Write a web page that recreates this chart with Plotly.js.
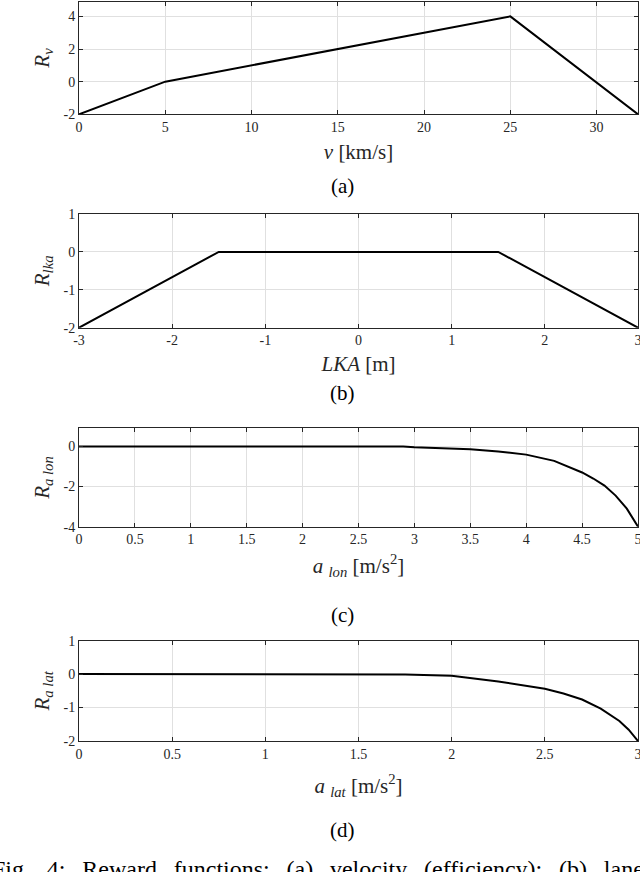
<!DOCTYPE html>
<html>
<head>
<meta charset="utf-8">
<script src="https://cdn.plot.ly/plotly-3.0.1.min.js"></script>
<style>
  body { margin: 0; background: #fff; }
  #chart { width: 640px; height: 872px; }
</style>
</head>
<body>
<div id="chart"></div>
<script>
// (a) velocity reward
const velX = [0, 5, 25, 32.4];
const velY = [-2, 0, 4, -2];
const velXTicks = [0, 5, 10, 15, 20, 25, 30];
const velYTicks = [-2, 0, 2, 4];

// (b) lane keeping reward
const lkaX = [-3, -1.5, 1.5, 3];
const lkaY = [-2, 0, 0, -2];
const lkaXTicks = [-3, -2, -1, 0, 1, 2, 3];
const lkaYTicks = [-2, -1, 0, 1];

// (c) longitudinal acceleration reward
const lonX = [0, 0.5, 1, 1.5, 2, 2.5, 2.9, 3, 3.25, 3.5, 3.75, 4, 4.25, 4.5, 4.6, 4.7, 4.8, 4.9, 5];
const lonY = [0, 0, 0, 0, 0, 0, 0, -0.04, -0.08, -0.14, -0.25, -0.41, -0.72, -1.3, -1.6, -1.95, -2.45, -3.1, -4];
const lonXTicks = [0, 0.5, 1, 1.5, 2, 2.5, 3, 3.5, 4, 4.5, 5];
const lonYTicks = [-4, -2, 0];

// (d) lateral acceleration reward
const latX = [0, 0.5, 1, 1.5, 1.75, 2, 2.25, 2.5, 2.6, 2.7, 2.8, 2.9, 2.95, 3];
const latY = [0, 0, 0, 0, -0.01, -0.05, -0.22, -0.44, -0.58, -0.76, -1.03, -1.4, -1.66, -2];
const latXTicks = [0, 0.5, 1, 1.5, 2, 2.5, 3];
const latYTicks = [-2, -1, 0, 1];

// caption words (the page is justified, so words are spread out)
const captionWords = ['Fig.', '4:', 'Reward', 'functions:', '(a)', 'velocity', '(efficiency);', '(b)', 'lane'];

const serif = "'Liberation Serif', 'Times New Roman', serif";
const ink = '#262626';

function axisStyle(range, ticks, title, standoff) {
    return {
        range: range,
        tickmode: 'array',
        tickvals: ticks,
        ticktext: ticks.map(String),
        ticks: 'inside',
        ticklen: 4,
        tickcolor: ink,
        showline: true,
        linecolor: ink,
        linewidth: 1,
        mirror: 'ticks',
        showgrid: true,
        gridcolor: '#e0e0e0',
        zeroline: false,
        ticklabeloverflow: 'allow',
        tickfont: { family: serif, size: 14, color: ink },
        title: { text: title, font: { family: serif, size: 21, color: ink }, standoff: standoff },
        fixedrange: true
    };
}

function line(x, y, xa, ya) {
    return { x: x, y: y, xaxis: xa, yaxis: ya, mode: 'lines', type: 'scatter',
             line: { color: '#000', width: 2 }, hoverinfo: 'skip' };
}

const traces = [
    line(velX, velY, 'x', 'y'),
    line(lkaX, lkaY, 'x2', 'y2'),
    line(lonX, lonY, 'x3', 'y3'),
    line(latX, latY, 'x4', 'y4')
];

function label(text, y) {
    return { text: text, xref: 'paper', yref: 'paper', x: 0.472, y: y,
             xanchor: 'center', yanchor: 'middle', showarrow: false,
             font: { family: serif, size: 21, color: '#000' } };
}

const caption = {
    text: captionWords.join('\u2002\u2009'),
    xref: 'paper', yref: 'paper', x: -0.159, y: 0.004,
    xanchor: 'left', yanchor: 'middle', showarrow: false,
    font: { family: serif, size: 24, color: '#000' }
};

const layout = {
    width: 640,
    height: 872,
    margin: { l: 79, r: 2, t: 0, b: 0 },
    paper_bgcolor: '#fff',
    plot_bgcolor: '#fff',
    showlegend: false,
    xaxis: Object.assign(axisStyle([0, 32.4], velXTicks, '<i>v</i> [km/s]', 10), { anchor: 'y', domain: [0, 1] }),
    yaxis: Object.assign(axisStyle([-2, 4.9], velYTicks, '<i>R</i><sub><i>v</i></sub>', 8), { anchor: 'x', domain: [0.8689, 0.9981] }),
    xaxis2: Object.assign(axisStyle([-3, 3], lkaXTicks, '<i>LKA</i> [m]', 8), { anchor: 'y2', domain: [0, 1] }),
    yaxis2: Object.assign(axisStyle([-2, 1], lkaYTicks, '<i>R</i><sub><i>lka</i></sub>', 8), { anchor: 'x2', domain: [0.6242, 0.7546] }),
    xaxis3: Object.assign(axisStyle([0, 5], lonXTicks, '<i>a</i> <sub><i>lon</i></sub> [m/s<sup>2</sup>]', 11), { anchor: 'y3', domain: [0, 1] }),
    yaxis3: Object.assign(axisStyle([-4, 0.9], lonYTicks, '<i>R</i><sub><i>a lon</i></sub>', 8), { anchor: 'x3', domain: [0.3960, 0.5088] }),
    xaxis4: Object.assign(axisStyle([0, 3], latXTicks, '<i>a</i> <sub><i>lat</i></sub> [m/s<sup>2</sup>]', 17), { anchor: 'y4', domain: [0, 1] }),
    yaxis4: Object.assign(axisStyle([-2, 1], latYTicks, '<i>R</i><sub><i>a lat</i></sub>', 8), { anchor: 'x4', domain: [0.1502, 0.2653] }),
    annotations: [
        label('(a)', 0.7867),
        label('(b)', 0.5493),
        label('(c)', 0.2947),
        label('(d)', 0.0482),
        caption
    ]
};

Plotly.newPlot('chart', traces, layout, { displayModeBar: false, staticPlot: true });
</script>
</body>
</html>
